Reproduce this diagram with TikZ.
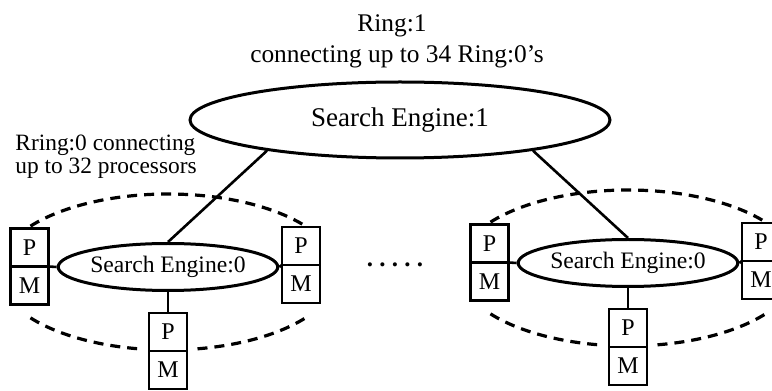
\documentclass[tikz,border=0pt]{standalone}
\usepackage{fontspec}
\setmainfont{Liberation Serif}
\usetikzlibrary{shapes.geometric}
\usetikzlibrary{positioning}
\tikzset{
    tnode/.style = {align=center, inner sep=0pt, text centered},
    se_node/.style = {tnode, ellipse, draw=black, line width=1.5pt, fill=white},
    big_se/.style = {se_node, minimum width=210pt, minimum height=38pt, font=\fontsize{13.5}{16}\selectfont},
    small_se/.style = {se_node, minimum width=97pt, minimum height=23.5pt, font=\fontsize{11.8}{14}\selectfont},
    pm_node/.style = {tnode, rectangle, draw=black, line width=1.4pt, outer sep=0pt, fill=white, minimum width=19pt, minimum height=19pt, font=\fontsize{12}{14}\selectfont},
    ring_line/.style = {dash pattern=on 5pt off 3.5pt, line width=1.6pt},
    link_line/.style = {line width=1.3pt}
}

\begin{document}
\begin{tikzpicture}[x=0.5pt, y=0.5pt]
    \useasboundingbox (0,0) rectangle (772,391);
    \clip (0,0) rectangle (772,391);
    % Ring:1
    \node [tnode, font=\fontsize{12.7}{15}\selectfont] (ring1) at (392,365) {Ring:1};
    \node [tnode, font=\fontsize{12.7}{15}\selectfont] (ring1txt) at (397,334) {connecting up to 34 Ring:0’s};
    \node [big_se] (se1) at (400,271) {Search Engine:1};
    \node [inner sep=0pt, align=left, anchor=west, font=\fontsize{11.7}{11.5}\selectfont] (ring0txt) at (15,234) {Rring:0 connecting\\up to 32 processors};
    % left Ring:0
    \coordinate (ringa) at (168,119);
    \draw [ring_line] ([shift={(144:170 and 78)}]ringa) arc [start angle=144, end angle=36, x radius=170, y radius=78];
    \draw [ring_line] ([shift={(216:170 and 78)}]ringa) arc [start angle=216, end angle=260, x radius=170, y radius=78];
    \draw [ring_line] ([shift={(280:170 and 78)}]ringa) arc [start angle=280, end angle=325, x radius=170, y radius=78];
    \node [small_se] (se0a) at (168,124) {Search Engine:0};
    \node [pm_node] (pa1) at (29.5,143.5) {P};
    \node [pm_node, below=0pt of pa1] (ma1) {M};
    \node [pm_node] (pa2) at (301,145) {P};
    \node [pm_node, below=0pt of pa2] (ma2) {M};
    \node [pm_node] (pa3) at (168,59) {P};
    \node [pm_node, below=0pt of pa3] (ma3) {M};
    \draw [link_line] (se1.193) -- (se0a.north);
    \draw [link_line] (se0a.west) -- (pa1.south east);
    \draw [link_line] (se0a.east) -- (pa2.south west);
    \draw [link_line] (se0a.south) -- (pa3.north);
    % dots
    \node [tnode, font=\fontsize{12.5}{15}\selectfont\bfseries] (dots) at (395,126) {.\hspace{0.25em}.\hspace{0.25em}.\hspace{0.25em}.\hspace{0.25em}.};
    % right Ring:0
    \coordinate (ringb) at (628,123);
    \draw [ring_line] ([shift={(144:170 and 78)}]ringb) arc [start angle=144, end angle=36, x radius=170, y radius=78];
    \draw [ring_line] ([shift={(216:170 and 78)}]ringb) arc [start angle=216, end angle=260, x radius=170, y radius=78];
    \draw [ring_line] ([shift={(280:170 and 78)}]ringb) arc [start angle=280, end angle=325, x radius=170, y radius=78];
    \node [small_se] (se0b) at (628,128) {Search Engine:0};
    \node [pm_node] (pb1) at (489.5,147.5) {P};
    \node [pm_node, below=0pt of pb1] (mb1) {M};
    \node [pm_node] (pb2) at (761,149) {P};
    \node [pm_node, below=0pt of pb2] (mb2) {M};
    \node [pm_node] (pb3) at (628,63) {P};
    \node [pm_node, below=0pt of pb3] (mb3) {M};
    \draw [link_line] (se1.-13) -- (se0b.north);
    \draw [link_line] (se0b.west) -- (pb1.south east);
    \draw [link_line] (se0b.east) -- (pb2.south west);
    \draw [link_line] (se0b.south) -- (pb3.north);
\end{tikzpicture}
\end{document}
